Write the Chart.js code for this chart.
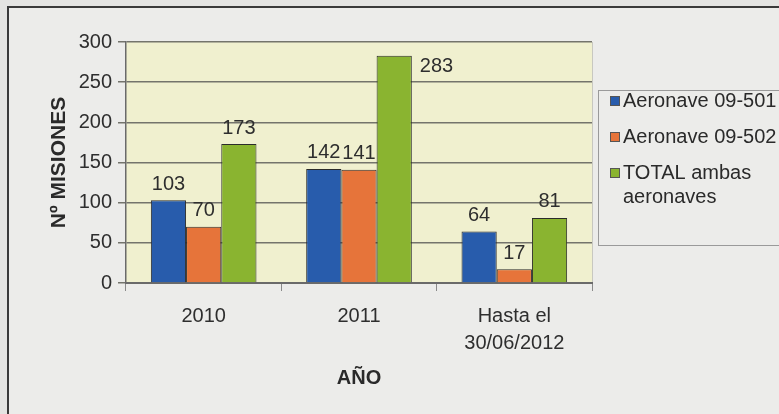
<!DOCTYPE html>
<html>
<head>
<meta charset="utf-8">
<script src="https://cdn.jsdelivr.net/npm/chart.js@4.4.1/dist/chart.umd.min.js"></script>
<style>
  html, body { margin: 0; padding: 0; background: #e4e4e2; }
  #wrap { position: absolute; left: 0; top: 0; width: 779px; height: 414px; }
  #frame { position: absolute; left: 7px; top: 6px; width: 790px; height: 420px;
           border-left: 2px solid #3a3a3a; border-top: 2px solid #3a3a3a; background: #ececea; }
  canvas { position: absolute; left: 0; top: 0; }
</style>
</head>
<body>
<div id="wrap">
  <div id="frame"></div>
  <canvas id="chart" width="779" height="414"></canvas>
</div>
<script>
var categories = [['2010'], ['2011'], ['Hasta el', '30/06/2012']];
var seriesNames = ['Aeronave 09-501', 'Aeronave 09-502', 'TOTAL ambas aeronaves'];
var aeronave501 = [103, 142, 64];
var aeronave502 = [70, 141, 17];
var totalAmbas = [173, 283, 81];
var yTicks = [0, 50, 100, 150, 200, 250, 300];

var colors = ['rgb(40, 92, 172)', 'rgb(230, 116, 58)', 'rgb(138, 180, 48)'];
var FONT = '"Liberation Sans", Arial, sans-serif';

// yellow plot background + right border
var plotBg = {
  id: 'plotBg',
  beforeDraw: function (chart) {
    var a = chart.chartArea, c = chart.ctx;
    c.save();
    c.fillStyle = '#f0f0cf';
    c.fillRect(a.left, a.top, a.right - a.left, a.bottom - a.top);
    c.strokeStyle = '#c8c8c0';
    c.lineWidth = 1;
    c.beginPath();
    c.moveTo(a.right + 0.5, a.top);
    c.lineTo(a.right + 0.5, a.bottom);
    c.stroke();
    c.restore();
  }
};

// value labels above the bars
var valueLabels = {
  id: 'valueLabels',
  afterDatasetsDraw: function (chart) {
    var c = chart.ctx;
    c.save();
    c.font = '20px ' + FONT;
    c.fillStyle = '#2e2e2e';
    c.textBaseline = 'middle';
    chart.data.datasets.forEach(function (ds, i) {
      chart.getDatasetMeta(i).data.forEach(function (bar, j) {
        var txt = String(ds.data[j]);
        var y = bar.y - 16;
        if (y < chart.chartArea.top + 8) {
          c.textAlign = 'left';
          c.fillText(txt, bar.x + bar.width / 2 + 8, bar.y + 11);
        } else {
          c.textAlign = 'center';
          c.fillText(txt, bar.x, y);
        }
      });
    });
    c.restore();
  }
};

// legend box on the right
var sideLegend = {
  id: 'sideLegend',
  afterDraw: function (chart) {
    var c = chart.ctx;
    c.save();
    c.fillStyle = '#ececea';
    c.strokeStyle = '#9a9a9a';
    c.lineWidth = 1;
    c.fillRect(598.5, 90.5, 200, 155);
    c.strokeRect(598.5, 90.5, 200, 155);
    c.font = '20px ' + FONT;
    c.textBaseline = 'middle';
    c.textAlign = 'left';
    var rows = [[seriesNames[0]], [seriesNames[1]], ['TOTAL ambas', 'aeronaves']];
    var ys = [101, 137, 173];
    rows.forEach(function (lines, i) {
      c.fillStyle = colors[i];
      c.fillRect(610, ys[i] - 5, 10, 10);
      c.strokeStyle = '#555';
      c.strokeRect(610.5, ys[i] - 4.5, 9, 9);
      c.fillStyle = '#2a2a2a';
      lines.forEach(function (t, k) {
        c.fillText(t, 623, ys[i] + k * 24);
      });
    });
    c.restore();
  }
};

var ctx = document.getElementById('chart').getContext('2d');
new Chart(ctx, {
  type: 'bar',
  data: {
    labels: categories,
    datasets: [
      { label: seriesNames[0], data: aeronave501, backgroundColor: colors[0], borderColor: '#2b2b2b', borderWidth: 1 },
      { label: seriesNames[1], data: aeronave502, backgroundColor: colors[1], borderColor: '#2b2b2b', borderWidth: 1 },
      { label: seriesNames[2], data: totalAmbas, backgroundColor: colors[2], borderColor: '#2b2b2b', borderWidth: 1 }
    ]
  },
  options: {
    responsive: false,
    animation: false,
    layout: { padding: { left: 0, right: 187, top: 42, bottom: 0 } },
    datasets: { bar: { categoryPercentage: 0.68, barPercentage: 1 } },
    plugins: { legend: { display: false }, tooltip: { enabled: false } },
    scales: {
      x: {
        afterFit: function (s) { s.height = 131; },
        grid: { drawOnChartArea: false, drawTicks: true, tickLength: 8, color: '#8a8a8a', offset: true },
        border: { color: '#6a6a6a', width: 2 },
        ticks: { color: '#2e2e2e', font: { family: FONT, size: 20, lineHeight: 1.35 }, padding: 12, maxRotation: 0 },
        title: { display: true, text: 'AÑO', color: '#2a2a2a',
                 font: { family: FONT, size: 20, weight: 'bold' },
                 padding: { top: 0, bottom: 24 } }
      },
      y: {
        min: 0, max: 300,
        afterFit: function (s) { s.width = 126; },
        afterBuildTicks: function (s) { s.ticks = yTicks.map(function (v) { return { value: v }; }); },
        grid: { color: '#74746c', lineWidth: 1.5, tickLength: 8 },
        border: { color: '#6a6a6a', width: 1.5 },
        ticks: { color: '#2e2e2e', font: { family: FONT, size: 20 }, padding: 6 },
        title: { display: true, text: 'Nº MISIONES', color: '#2a2a2a',
                 font: { family: FONT, size: 21, weight: 'bold' },
                 padding: { top: 47, bottom: 0 } }
      }
    }
  },
  plugins: [plotBg, valueLabels, sideLegend]
});
</script>
</body>
</html>
